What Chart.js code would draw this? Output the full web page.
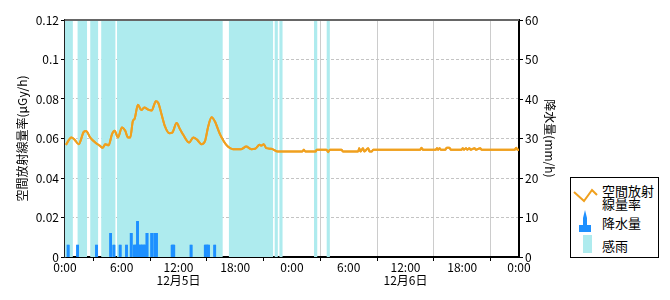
<!DOCTYPE html>
<html><head><meta charset="utf-8">
<script src="https://cdn.jsdelivr.net/npm/chart.js@4"></script>
<style>
body{margin:0;background:#fff;}
#wrap{position:relative;width:670px;height:300px;}
#legend{position:absolute;left:570px;top:177px;width:87px;height:79px;border:1px solid #000;background:#fff;font-family:'Noto Sans CJK JP',sans-serif;font-size:13px;line-height:13px;color:#000;}
#legend .t{position:absolute;left:31px;white-space:nowrap;}
#legend svg{position:absolute;left:0;top:0;}
</style>
</head><body>
<div id="wrap">
<canvas id="c" width="670" height="300"></canvas>
<div id="legend">
<svg width="87" height="79">
<polyline points="3,14 13,23 21,12 26,17" fill="none" stroke="#f0a01e" stroke-width="2"/>
<polygon points="8,54 8,47 12,47 12,40 14,32 16,40 16,47 20,47 20,54" fill="#1e90ff"/>
<rect x="12" y="57" width="9" height="18" fill="#aeebee"/>
</svg>
<div class="t" style="top:6px">空間放射</div>
<div class="t" style="top:19px">線量率</div>
<div class="t" style="top:38px">降水量</div>
<div class="t" style="top:61px">感雨</div>
</div>
</div>
<script>
// Time axis in hours from 12/5 0:00
const tickHours = [0, 6, 12, 18, 24, 30, 36, 42, 48];
const tickLabels = ['0:00', '6:00', '12:00', '18:00', '0:00', '6:00', '12:00', '18:00', '0:00'];
const dateTickHours = [12, 36];
const dateLabels = ['12月5日', '12月6日'];
const leftTicks = [0, 0.02, 0.04, 0.06, 0.08, 0.1, 0.12];
const leftTickLabels = ['0', '0.02', '0.04', '0.06', '0.08', '0.1', '0.12'];
const rightTicks = [0, 10, 20, 30, 40, 50, 60];

// 空間放射線量率 (μGy/h)
const rdHours = [0.1, 0.67, 1.02, 1.45, 1.98, 2.22, 2.67, 3.2, 3.67, 3.98, 4.26, 4.62, 4.97, 5.25, 5.6, 6.02, 6.37, 6.66, 6.9, 7.18, 7.36, 7.71, 8.06, 8.38, 8.8, 9.16, 9.61, 9.86, 10.22, 10.57, 11.02, 11.34, 11.8, 12.15, 12.5, 13.13, 13.56, 13.98, 14.44, 14.79, 15.14, 15.5, 15.85, 16.38, 16.8, 17.22, 17.75, 18.63, 19.16, 19.69, 20.1, 20.57, 20.74, 21.02, 21.27, 21.8, 22.5,
  25.1, 25.25, 25.4, 26.5, 26.6, 27.65, 27.82, 28.0, 29.23, 29.4, 31.0, 31.1, 31.25, 31.5, 31.65, 32.05, 32.2, 32.45, 32.57, 37.55, 37.69, 37.85, 39.2, 39.33, 39.45, 39.6, 39.75, 40.2, 40.35, 40.65, 40.8, 41.95, 42.05, 42.2, 42.4, 42.55, 42.75, 42.9, 43.3, 43.45, 43.9, 44.05, 47.55, 47.7, 47.85, 48];
const rdValues = [0.0568, 0.0605, 0.0594, 0.0571, 0.0633, 0.0638, 0.0605, 0.058, 0.0564, 0.0553, 0.0571, 0.0566, 0.0622, 0.0639, 0.0605, 0.0656, 0.0639, 0.0605, 0.0605, 0.069, 0.07, 0.0771, 0.0744, 0.0757, 0.0746, 0.0742, 0.0788, 0.078, 0.072, 0.0661, 0.0627, 0.063, 0.0678, 0.0648, 0.0619, 0.058, 0.0605, 0.0593, 0.0571, 0.0585, 0.0661, 0.0707, 0.0686, 0.0622, 0.0585, 0.0559, 0.0546, 0.0546, 0.0559, 0.0546, 0.0548, 0.0568, 0.0564, 0.0571, 0.0551, 0.0548, 0.0534,
  0.0534, 0.0543, 0.0534, 0.0534, 0.0543, 0.0543, 0.0531, 0.0543, 0.0543, 0.0534, 0.0534, 0.0551, 0.0534, 0.0551, 0.0534, 0.0551, 0.0534, 0.0534, 0.0543, 0.0543, 0.0553, 0.0543, 0.0543, 0.0551, 0.0543, 0.0551, 0.0543, 0.0543, 0.0553, 0.0553, 0.0543, 0.0543, 0.0551, 0.0543, 0.0551, 0.0543, 0.0551, 0.0543, 0.0551, 0.0543, 0.0551, 0.0543, 0.0543, 0.0553, 0.0543, 0.0543];

// 降水量 (mm/h), 10-minute bars
const rainHours = [0.33, 1.33, 3.33, 4.83, 5.17, 5.83, 6.5, 7.0, 7.33, 7.5, 7.67, 7.83, 8.0, 8.17, 8.33, 8.5, 8.67, 9.17, 9.5, 9.67, 11.33, 11.5, 13.33, 14.83, 15.0, 15.17, 15.83];
const rainValues = [3, 3, 3, 6, 3, 3, 3, 6, 3, 3, 9, 3, 3, 3, 3, 3, 6, 6, 6, 6, 3, 3, 3, 3, 3, 3, 3];

// 感雨 periods (hours)
const bandStart = [0, 1.33, 2.67, 3.83, 5.5, 17.33, 22.17, 22.67, 26.33, 27.67];
const bandEnd = [0.83, 2.33, 3.5, 5.33, 16.67, 22.0, 22.5, 23.0, 26.67, 28.0];
const bandTop = 60;

const lineData = rdHours.map((h, i) => ({x: h, y: rdValues[i]}));
const rainData = rainHours.map((h, i) => ({x: h, y: rainValues[i]}));
const bandData = [{x: 0, y: 0}];
bandStart.forEach((s, i) => { bandData.push({x: s, y: bandTop}); bandData.push({x: bandEnd[i], y: 0}); });
bandData.push({x: 48, y: 0});

const FONT = "'Noto Sans CJK JP', 'Noto Sans', sans-serif";

const overlay = {
  id: 'overlay',
  afterDraw(chart) {
    const ctx = chart.ctx, a = chart.chartArea;
    ctx.save();
    ctx.beginPath();
    ctx.rect(a.left, a.top - 2, a.right - a.left, a.bottom - a.top + 2);
    ctx.clip();
    chart.getDatasetMeta(1).controller.draw();
    chart.getDatasetMeta(2).controller.draw();
    ctx.restore();
    ctx.save();
    ctx.strokeStyle = '#666';
    ctx.lineWidth = 2;
    ctx.beginPath();
    ctx.moveTo(a.left, a.top);
    ctx.lineTo(a.right, a.top);
    ctx.stroke();
    ctx.restore();
  }
};

new Chart(document.getElementById('c'), {
  type: 'line',
  data: {
    datasets: [
      {type: 'line', label: '感雨', data: bandData, yAxisID: 'yR', stepped: 'before', fill: 'origin',
       backgroundColor: '#aeebee', borderWidth: 0, pointRadius: 0, order: 3},
      {type: 'bar', label: '降水量', data: rainData, yAxisID: 'yR', backgroundColor: '#1e90ff',
       barThickness: 2, borderWidth: 0, order: 2},
      {type: 'line', label: '空間放射線量率', data: lineData, yAxisID: 'y', borderColor: '#f0a01e',
       borderWidth: 2, pointRadius: 0, fill: false, cubicInterpolationMode: 'monotone', order: 1}
    ]
  },
  options: {
    responsive: false,
    devicePixelRatio: 1,
    animation: false,
    layout: {padding: {top: 20, right: 106, bottom: 0, left: 0}},
    plugins: {legend: {display: false}, tooltip: {enabled: false}},
    scales: {
      x: {
        type: 'linear', min: 0, max: 48, offset: false, z: 1,
        afterBuildTicks: s => { s.ticks = tickHours.map(v => ({value: v})); },
        afterFit: s => { s.height = 43; },
        ticks: {
          autoSkip: false, maxRotation: 0, padding: 0, color: '#000',
          font: {family: FONT, size: 12, lineHeight: 1.1},
          callback: (v) => {
            const i = tickHours.indexOf(v);
            const d = dateTickHours.indexOf(v);
            return d >= 0 ? [tickLabels[i], dateLabels[d]] : tickLabels[i];
          }
        },
        grid: {
          color: c => (c.tick && c.tick.value === 24) ? '#555' : '#cccccc',
          lineWidth: 1, tickLength: 4, tickColor: '#000'
        },
        border: {color: '#000', width: 2}
      },
      y: {
        type: 'linear', position: 'left', min: 0, max: 0.12, z: 1,
        afterBuildTicks: s => { s.ticks = leftTicks.map(v => ({value: v})); },
        afterFit: s => { s.width = 65; },
        ticks: {
          padding: 2, color: '#000', font: {family: FONT, size: 12},
          callback: v => leftTickLabels[leftTicks.indexOf(v)]
        },
        grid: {color: '#c4c4c4', lineWidth: 1, tickLength: 4, tickColor: '#000'},
        border: {color: '#222', width: 2, dash: [3, 2]},
        title: {display: true, text: '空間放射線量率(μGy/h)', color: '#000',
          font: {family: FONT, size: 12}, padding: {top: 15, bottom: 0}}
      },
      yR: {
        type: 'linear', position: 'right', min: 0, max: 60, z: 1,
        afterBuildTicks: s => { s.ticks = rightTicks.map(v => ({value: v})); },
        afterFit: s => { s.width = 45; },
        ticks: {padding: 2, color: '#000', font: {family: FONT, size: 12}},
        grid: {drawOnChartArea: false, tickLength: 4, tickColor: '#000'},
        border: {color: '#000', width: 2},
        title: {display: true, text: '降水量(mm/h)', color: '#000',
          font: {family: FONT, size: 12}, padding: {top: 7, bottom: 0}}
      }
    }
  },
  plugins: [overlay]
});
</script>
</body></html>
